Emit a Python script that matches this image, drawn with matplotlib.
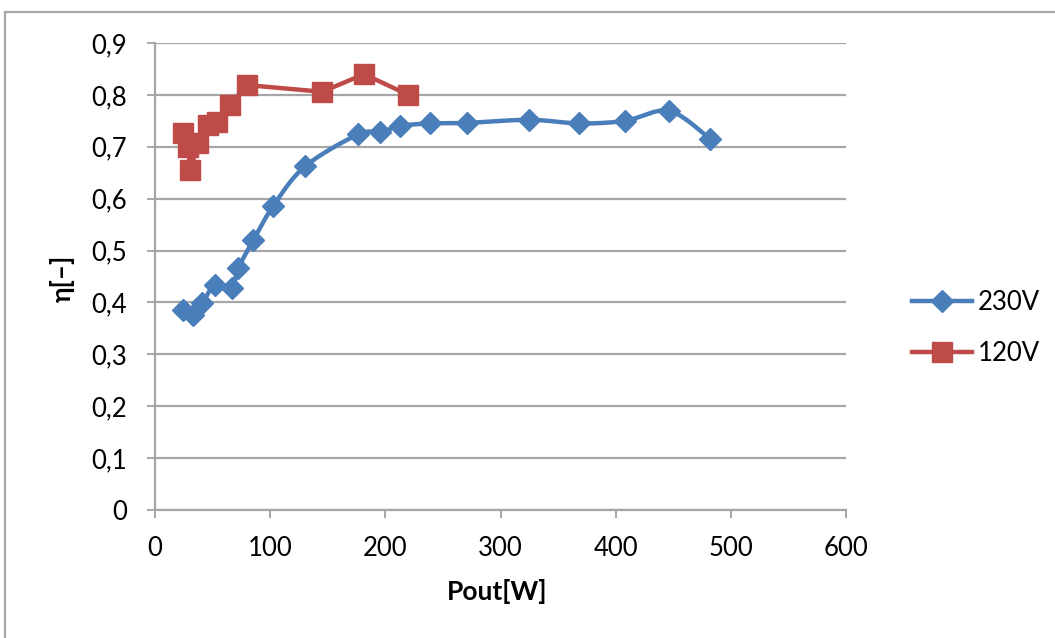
import numpy as np
import matplotlib
matplotlib.use("Agg")
import matplotlib.pyplot as plt
from matplotlib.patches import Rectangle
from matplotlib.lines import Line2D
from matplotlib.ticker import FuncFormatter, MultipleLocator

# Measured efficiency vs. output power
p_230 = [24.5, 33, 41, 52, 66.6, 72.3, 85.4, 102.7, 130.2, 176.5, 195.4, 212.7,
         238.8, 270.6, 325, 368, 408, 446.6, 482]
eta_230 = [0.385, 0.376, 0.398, 0.434, 0.428, 0.466, 0.520, 0.586, 0.662, 0.724,
           0.728, 0.740, 0.745, 0.746, 0.752, 0.745, 0.750, 0.769, 0.715]

p_120 = [24.6, 29, 30.4, 37.6, 46.3, 53.5, 65, 79.6, 145.3, 181.5, 220]
eta_120 = [0.727, 0.699, 0.655, 0.707, 0.742, 0.748, 0.780, 0.819, 0.806, 0.840, 0.800]

series_names = ["230V", "120V"]
blue = "#4a7ebb"
red = "#be4b48"
grid_col = "#a6a6a6"

plt.rcParams["font.family"] = ["Lato", "DejaVu Sans"]

fig = plt.figure(figsize=(10.55, 6.38), dpi=100)
ax = fig.add_axes([155 / 1055, 1 - 510 / 638, (846 - 155) / 1055, (510 - 43) / 638])

ax.set_xlim(0, 600)
ax.set_ylim(0, 0.9)


def smooth_curve(xs, ys, n=20):
    """Catmull-Rom style smoothing done in display space."""
    pts = ax.transData.transform(np.column_stack([xs, ys]))
    out = [pts[0]]
    m = len(pts)
    for i in range(m - 1):
        p0 = pts[i - 1] if i > 0 else pts[i]
        p1 = pts[i]
        p2 = pts[i + 1]
        p3 = pts[i + 2] if i + 2 < m else pts[i + 1]
        c1 = p1 + (p2 - p0) / 6.0
        c2 = p2 - (p3 - p1) / 6.0
        t = np.linspace(0, 1, n)[1:, None]
        seg = ((1 - t) ** 3) * p1 + 3 * ((1 - t) ** 2) * t * c1 + 3 * (1 - t) * t ** 2 * c2 + t ** 3 * p2
        out.extend(seg)
    out = np.array(out)
    return ax.transData.inverted().transform(out)


# grid
ax.yaxis.set_major_locator(MultipleLocator(0.1))
ax.xaxis.set_major_locator(MultipleLocator(100))
ax.grid(axis="y", color=grid_col, linewidth=1.6, zorder=0)
ax.set_axisbelow(True)

for side in ("top", "right"):
    ax.spines[side].set_visible(False)
for side in ("left", "bottom"):
    ax.spines[side].set_color(grid_col)
    ax.spines[side].set_linewidth(1.6)

ax.tick_params(axis="both", colors=grid_col, length=6, width=1.4, labelcolor="black",
               labelsize=18.5)
ax.tick_params(axis="y", pad=14)
ax.tick_params(axis="x", pad=13)


def comma_fmt(v, pos):
    if abs(v) < 1e-9:
        return "0"
    return f"{v:.1f}".replace(".", ",")


ax.yaxis.set_major_formatter(FuncFormatter(comma_fmt))
ax.xaxis.set_major_formatter(FuncFormatter(lambda v, p: f"{int(round(v))}"))

# 230V: smoothed line with diamond markers
curve = smooth_curve(p_230, eta_230)
ax.plot(curve[:, 0], curve[:, 1], color=blue, linewidth=3.2, zorder=3,
        solid_capstyle="round")
ax.plot(p_230, eta_230, linestyle="none", marker="D", markersize=11,
        color=blue, markeredgecolor=blue, zorder=4)

# 120V: straight segments with square markers
ax.plot(p_120, eta_120, color=red, linewidth=3.2, marker="s", markersize=14,
        markeredgecolor=red, zorder=5)

ax.set_xlabel("Pout[W]", fontsize=19, fontweight="bold")
ax.set_ylabel("η[–]", fontsize=19, fontweight="bold")
ax.xaxis.set_label_coords((497 - 155) / 691, (510 - 592) / 467)
ax.xaxis.label.set_verticalalignment("center")
ax.yaxis.set_label_coords((62 - 155) / 691, (510 - 278) / 467)
ax.yaxis.label.set_verticalalignment("center")

handles = [
    Line2D([], [], color=blue, linewidth=3.2, marker="D", markersize=11),
    Line2D([], [], color=red, linewidth=3.2, marker="s", markersize=14),
]
fig.legend(handles, series_names, loc="center left",
           bbox_to_anchor=(912 / 1055, 1 - 328 / 638), frameon=False,
           fontsize=18.5, handlelength=2.35, handletextpad=0.2, labelspacing=1.05,
           borderaxespad=0, borderpad=0)

# outer chart border
fig.patches.append(Rectangle((5 / 1055, -0.1), 1.2, (638 - 12) / 638 + 0.1,
                             transform=fig.transFigure, fill=False,
                             edgecolor=grid_col, linewidth=1.6))

fig.savefig("out.png", dpi=100)
